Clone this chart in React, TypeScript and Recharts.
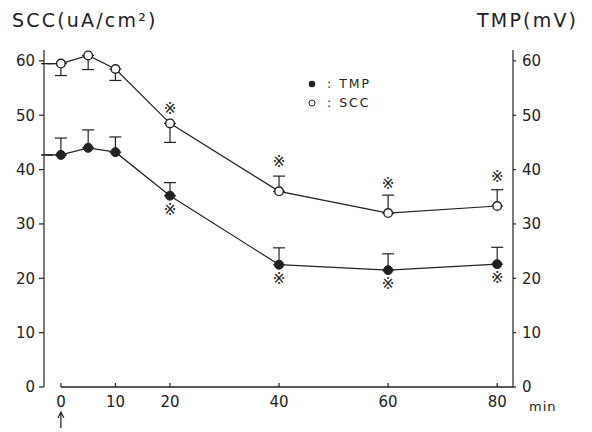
import { LineChart, Line, XAxis, YAxis, ErrorBar, LabelList, Legend, ReferenceLine } from "recharts";

const INK = "#222";
const FONT = "'DejaVu Sans', sans-serif";

// time after treatment (min); first entry is the baseline stub before 0
const minutes = [-2.5, 0, 5, 10, 20, 40, 60, 80];
const scc = [59.5, 59.5, 61, 58.5, 48.5, 36, 32, 33.3];
const tmp = [42.7, 42.7, 44, 43.2, 35.2, 22.5, 21.5, 22.6];
// [lower, upper]
const sccErr = [[0, 0], [2.2, 0], [2.6, 0], [2.1, 0], [3.5, 0], [0, 2.8], [0, 3.3], [0, 3]];
const tmpErr = [[0, 0], [0, 3.1], [0, 3.3], [0, 2.8], [0, 2.4], [0, 3.1], [0, 3], [0, 3.1]];
const sccSig = ["", "", "", "", "※", "※", "※", "※"];
const tmpSig = ["", "", "", "", "※", "※", "※", "※"];

const xTicks = [0, 10, 20, 40, 60, 80];
const yTicks = [0, 10, 20, 30, 40, 50, 60];

const rows = minutes.map((t, i) => ({
  t,
  scc: scc[i],
  tmp: tmp[i],
  sccErr: sccErr[i],
  tmpErr: tmpErr[i],
  sccSig: sccSig[i],
  tmpSig: tmpSig[i],
}));

const tickStyle = { fill: INK, fontSize: 15, fontFamily: FONT };

function OpenDot(p: any) {
  if (p.index === 0) return <g key={`o-${p.index}`} />;
  return <circle key={`o-${p.index}`} cx={p.cx} cy={p.cy} r={4.3} fill="#fff" stroke={INK} strokeWidth={1.4} />;
}

function FilledDot(p: any) {
  if (p.index === 0) return <g key={`f-${p.index}`} />;
  return <circle key={`f-${p.index}`} cx={p.cx} cy={p.cy} r={4.5} fill={INK} stroke={INK} strokeWidth={1} />;
}

function sigLabel(above: boolean) {
  return (p: any) => {
    if (!p.value) return <g />;
    const x = p.x ?? p.viewBox?.x;
    const y = p.y ?? p.viewBox?.y;
    let off = 14;
    if (above && sccErr[p.index] && sccErr[p.index][1] > 0) off = 29;
    return (
      <text x={x} y={above ? y - off : y + off} textAnchor="middle" dominantBaseline="central" fontSize={15} fill={INK} fontFamily={FONT}>
        {p.value}
      </text>
    );
  };
}

function XTick(p: any) {
  const { x, y, payload } = p;
  return (
    <g>
      <line x1={x} y1={y - 9} x2={x} y2={y - 13} stroke={INK} strokeWidth={1.2} />
      <text x={x} y={y} dy="0.71em" textAnchor="middle" {...tickStyle}>{payload.value}</text>
      {payload.value === 0 && (
        <path
          d={`M${x},${y + 32} L${x},${y + 17} M${x - 3},${y + 22} L${x},${y + 16} L${x + 3},${y + 22}`}
          fill="none"
          stroke={INK}
          strokeWidth={1.2}
        />
      )}
    </g>
  );
}

function LegendBox() {
  const row = { display: "flex", alignItems: "center", height: 19, lineHeight: "19px" };
  const txt = { marginLeft: 11, fontSize: 12.5, letterSpacing: 2, color: INK, fontFamily: FONT };
  return (
    <div>
      <div style={row}>
        <svg width={8} height={8}><circle cx={4} cy={4} r={3.3} fill={INK} /></svg>
        <span style={txt}>: TMP</span>
      </div>
      <div style={row}>
        <svg width={8} height={8}><circle cx={4} cy={4} r={3} fill="#fff" stroke={INK} strokeWidth={1} /></svg>
        <span style={txt}>: SCC</span>
      </div>
    </div>
  );
}

export default function App() {
  return (
    <div style={{ position: "relative", width: 584, height: 424, fontFamily: FONT, color: INK, background: "#fff" }}>
      <div style={{ position: "absolute", left: 4, top: 3, fontSize: 19, lineHeight: "19px", letterSpacing: 2.2, whiteSpace: "nowrap" }}>
        SCC(uA/cm²)
      </div>
      <div style={{ position: "absolute", left: 469, top: 3, fontSize: 19, lineHeight: "19px", letterSpacing: 2.2, whiteSpace: "nowrap" }}>
        TMP(mV)
      </div>
      <LineChart width={584} height={424} data={rows} margin={{ top: 42, right: 29, bottom: 15, left: 0 }}>
        <XAxis
          dataKey="t"
          type="number"
          domain={[-3.1, 82.9]}
          allowDataOverflow
          ticks={xTicks}
          axisLine={false}
          tickLine={false}
          tickSize={4}
          tickMargin={5}
          height={30}
          tick={<XTick />}
          label={(p: any) => {
            const vb = p.viewBox || {};
            return (
              <text x={vb.x + vb.width + 16} y={403} fontSize={13} fill={INK} fontFamily={FONT} letterSpacing={1}>
                min
              </text>
            );
          }}
        />
        <YAxis
          yAxisId="left"
          domain={[0, 62]}
          allowDataOverflow
          ticks={yTicks}
          width={36}
          tickSize={5}
          tickMargin={4}
          tick={tickStyle}
          axisLine={{ stroke: INK, strokeWidth: 1.2 }}
          tickLine={{ stroke: INK, strokeWidth: 1.2 }}
        />
        <YAxis
          yAxisId="right"
          orientation="right"
          domain={[0, 62]}
          allowDataOverflow
          ticks={yTicks}
          width={50}
          tickSize={3}
          tickMargin={6}
          tick={tickStyle}
          axisLine={{ stroke: INK, strokeWidth: 1.2 }}
          tickLine={{ stroke: INK, strokeWidth: 1.2 }}
        />
        <ReferenceLine
          yAxisId="left"
          segment={[{ x: 0, y: 0 }, { x: 82.9, y: 0 }]}
          stroke={INK}
          strokeWidth={1.4}
        />
        <Legend
          layout="vertical"
          align="center"
          verticalAlign="middle"
          wrapperStyle={{ left: 300, top: 66, width: 100 }}
          content={() => <LegendBox />}
        />
        <Line
          yAxisId="left"
          dataKey="scc"
          name="SCC"
          stroke={INK}
          strokeWidth={1.2}
          dot={OpenDot}
          activeDot={false}
          isAnimationActive={false}
        >
          <ErrorBar dataKey="sccErr" direction="y" width={6} stroke={INK} strokeWidth={1.2} />
          <LabelList dataKey="sccSig" content={sigLabel(true)} />
        </Line>
        <Line
          yAxisId="right"
          dataKey="tmp"
          name="TMP"
          stroke={INK}
          strokeWidth={1.2}
          dot={FilledDot}
          activeDot={false}
          isAnimationActive={false}
        >
          <ErrorBar dataKey="tmpErr" direction="y" width={6} stroke={INK} strokeWidth={1.2} />
          <LabelList dataKey="tmpSig" content={sigLabel(false)} />
        </Line>
      </LineChart>
    </div>
  );
}
